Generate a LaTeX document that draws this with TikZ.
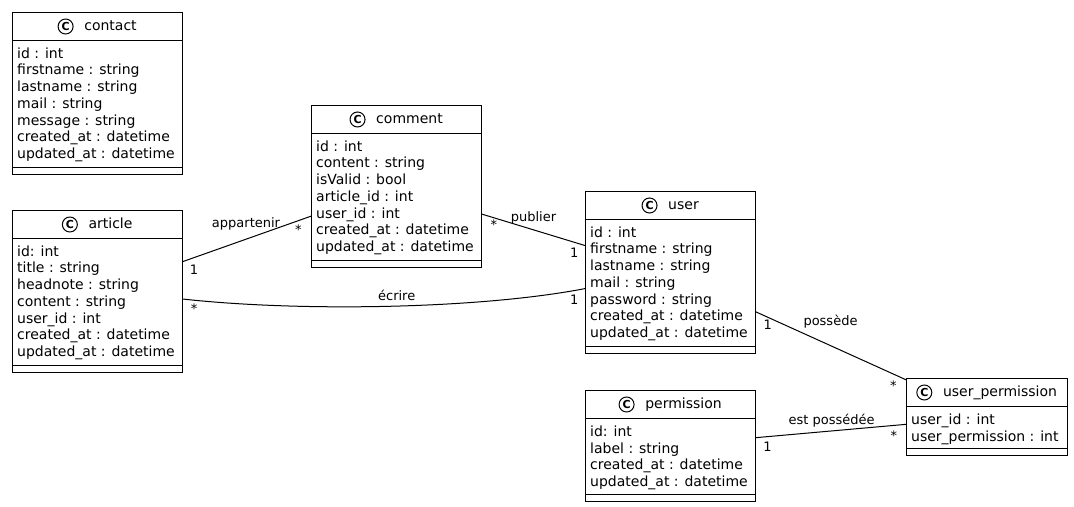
\documentclass[tikz,border=0pt]{standalone}
\usepackage{fontspec}
\setmainfont{DejaVu Sans}
\usetikzlibrary{calc}

\tikzset{
  classbox/.style={draw, line width=1.5bp, fill=white, inner sep=0pt, outer sep=0pt, anchor=north west},
  boxrule/.style={line width=1.5bp},
  titletext/.style={font=\fontsize{14bp}{16bp}\selectfont, inner sep=0pt, anchor=base},
  attrtext/.style={font=\fontsize{14bp}{16bp}\selectfont, inner sep=0pt, anchor=base west},
  classicon/.style={circle, draw, line width=1bp, fill=white, minimum size=15bp, inner sep=0pt,
    font=\fontsize{11bp}{11bp}\selectfont\bfseries},
  assoc/.style={line width=1bp},
  lbl/.style={font=\fontsize{13bp}{15bp}\selectfont, inner sep=0pt, text height=9.5bp, text depth=2.5bp},
}

% #1 node name, #2 left, #3 top, #4 width, #5 title, #6 height, #7 attributes
\newcommand{\umlclass}[7]{%
  \node[classbox, minimum width=#4bp, minimum height=#6bp] (#1) at (#2,#3) {};
  \draw[boxrule] ($(#1.north west)+(0,28)$) -- ($(#1.north east)+(0,28)$);
  \draw[boxrule] ($(#1.south west)+(0,-7)$) -- ($(#1.south east)+(0,-7)$);
  \node[titletext] (#1-t) at ($(#1.north)+(13,18)$) {#5};
  \node[classicon] (#1-c) at ($(#1-t.base west)+(-18.5,-4)$) {C};
  \foreach \attrline [count=\attrno from 0] in {#7} {
    \node[attrtext] at ($(#1.north west)+(4.5,45.8+16.7*\attrno)$) {\attrline};
  }
}

\begin{document}
\begin{tikzpicture}[x=1bp, y=-1bp]
  \path[fill=white] (0,0) rectangle (1074,507);
  \useasboundingbox (0,0) rectangle (1074,507);

  \umlclass{contact}{12.5}{12.5}{170}{contact}{162}{id : int, firstname : string, lastname : string,
    mail : string, message : string, created\_at : datetime, updated\_at : datetime}
  \umlclass{article}{12.5}{210.5}{170}{article}{162}{id: int, title : string, headnote : string,
    content : string, user\_id : int, created\_at : datetime, updated\_at : datetime}
  \umlclass{comment}{311.5}{105.5}{170}{comment}{162}{id : int, content : string, isValid : bool,
    article\_id : int, user\_id : int, created\_at : datetime, updated\_at : datetime}
  \umlclass{user}{585.5}{191.5}{170}{user}{162}{id : int, firstname : string, lastname : string,
    mail : string, password : string, created\_at : datetime, updated\_at : datetime}
  \umlclass{permission}{585.5}{390.5}{170}{permission}{111}{id: int, label : string,
    created\_at : datetime, updated\_at : datetime}
  \umlclass{userperm}{906.5}{378.5}{161}{user\_permission}{77}{user\_id : int, user\_permission : int}

  % associations
  \draw[assoc] ([yshift=29.8bp]article.east) -- ([yshift=-29.5bp]comment.west)
    node[lbl, pos=0.5, xshift=-1bp, yshift=14.9bp] {appartenir}
    node[lbl, pos=0, xshift=11.5bp, yshift=-9.5bp] {1}
    node[lbl, pos=1, xshift=-13.2bp, yshift=-14.7bp] {*};

  \draw[assoc] ([yshift=-27.5bp]comment.east) -- ([yshift=26.8bp]user.west)
    node[lbl, pos=0.5, yshift=12.15bp] {publier}
    node[lbl, pos=0, xshift=12.3bp, yshift=-11.7bp] {*}
    node[lbl, pos=1, xshift=-11.2bp, yshift=-8.8bp] {1};

  \draw[assoc] ([yshift=-7.5bp]article.east) .. controls +(117.5,13) and +(-105.5,20.5) .. ([yshift=-16bp]user.west)
    node[lbl, pos=0.5, xshift=8.2bp, yshift=9.4bp] {écrire}
    node[lbl, pos=0, xshift=11.5bp, yshift=-10.7bp] {*}
    node[lbl, pos=1, xshift=-11.2bp, yshift=-12.7bp] {1};

  \draw[assoc] ([yshift=-39.2bp]user.east) -- ([yshift=-1.5bp]userperm.north west)
    node[lbl, pos=0.5, xshift=-0.5bp, yshift=24.15bp] {possède}
    node[lbl, pos=0, xshift=12.3bp, yshift=-14.5bp] {1}
    node[lbl, pos=1, xshift=-13.2bp, yshift=-7.3bp] {*};

  \draw[assoc] ([yshift=8.3bp]permission.east) -- ([yshift=-7.3bp]userperm.west)
    node[lbl, pos=0.5, xshift=0.7bp, yshift=10bp] {est possédée}
    node[lbl, pos=0, xshift=12bp, yshift=-10.2bp] {1}
    node[lbl, pos=1, xshift=-12.7bp, yshift=-13bp] {*};
\end{tikzpicture}
\end{document}
